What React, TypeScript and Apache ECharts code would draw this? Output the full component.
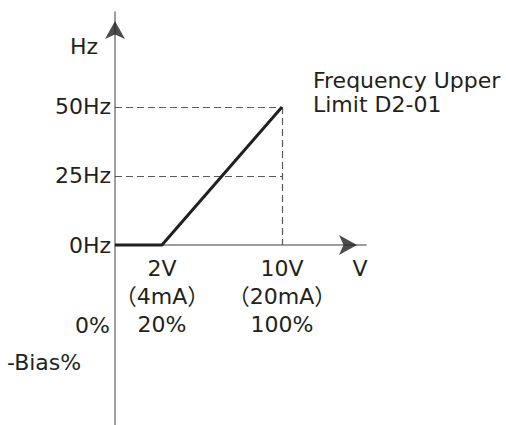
import React, { useEffect, useRef } from "react";
import * as echarts from "echarts";

// Axis domains (V horizontally, Hz vertically)
const X_MIN = -1.13;
const X_MAX = 15.6;
const Y_MIN = -65.2;
const Y_MAX = 84.4;

// Tick positions and labels
const xTickValues = [2, 10];
const xTickLabels = ["2V\n（4mA）\n20%", "10V\n（20mA）\n100%"];
const yTickValues = [0, 25, 50];
const yTickLabels = ["0Hz", "25Hz", "50Hz"];

// Frequency curve (V, Hz)
const curveV = [X_MIN, 2, 10];
const curveHz = [0, 0, 50];

// Reference levels
const upperLimitV = 10;
const upperLimitHz = 50;
const midHz = 25;

const FONT = "'DejaVu Sans', 'Noto Sans CJK SC', sans-serif";
const FS = 22;
const TEXT = "#231f20";
const GRID_TOP = 12;
const GRID_BOTTOM = 0;
const HEIGHT = 425;

export default function App() {
  const ref = useRef<HTMLDivElement>(null);
  useEffect(() => {
    if (!ref.current) return;
    const chart = echarts.init(ref.current, undefined, { renderer: "svg" });
    const dashStyle = { color: "#5a5a5a", width: 1.2, type: [7, 4] as any };
    const gridH = HEIGHT - GRID_TOP - GRID_BOTTOM;
    // move the x axis (line + labels) from the grid bottom up to Hz = 0
    const xOffset = -((0 - Y_MIN) / (Y_MAX - Y_MIN)) * gridH;
    chart.setOption({
      animation: false,
      backgroundColor: "#ffffff",
      grid: { left: 115, right: 140, top: GRID_TOP, bottom: GRID_BOTTOM, containLabel: false, outerBoundsMode: "none" },
      xAxis: {
        type: "value",
        min: X_MIN,
        max: X_MAX,
        offset: xOffset,
        splitLine: { show: false },
        axisTick: { show: false },
        axisLine: { onZero: false, lineStyle: { color: "#7d7d7d", width: 1.5 } },
        axisLabel: {
          customValues: xTickValues,
          formatter: (v: number) => xTickLabels[xTickValues.indexOf(v)] ?? "",
          color: TEXT,
          fontFamily: FONT,
          fontSize: FS,
          lineHeight: 28,
          margin: 9,
          align: "center",
        },
      },
      yAxis: {
        type: "value",
        min: Y_MIN,
        max: Y_MAX,
        splitLine: { show: false },
        axisTick: { show: false },
        axisLine: { onZero: false, lineStyle: { color: "#7d7d7d", width: 1.5 } },
        axisLabel: {
          customValues: yTickValues,
          formatter: (v: number) => yTickLabels[yTickValues.indexOf(v)] ?? "",
          color: TEXT,
          fontFamily: FONT,
          fontSize: FS,
          margin: 4,
        },
      },
      series: [
        {
          type: "line",
          data: curveV.map((v, i) => [v, curveHz[i]]),
          symbol: "none",
          lineStyle: { color: TEXT, width: 3 },
          z: 5,
          markLine: {
            silent: true,
            symbol: ["none", "none"],
            label: { show: false },
            lineStyle: dashStyle,
            data: [
              [{ coord: [X_MIN, upperLimitHz] }, { coord: [upperLimitV, upperLimitHz] }],
              [{ coord: [X_MIN, midHz] }, { coord: [upperLimitV, midHz] }],
              [{ coord: [upperLimitV, upperLimitHz] }, { coord: [upperLimitV, 0] }],
            ],
          },
        },
        {
          type: "scatter",
          clip: false,
          silent: true,
          symbol: "arrow",
          symbolSize: [15, 18],
          itemStyle: { color: TEXT },
          z: 6,
          data: [
            { value: [X_MAX, 0], symbolRotate: -90, symbolOffset: [-9, 0] },
            { value: [X_MIN, Y_MAX], symbolRotate: 0, symbolOffset: [0, 9] },
          ],
        },
      ],
      graphic: [
        { type: "text", x: 98, y: 46, style: { text: "Hz", fill: TEXT, font: `${FS}px ${FONT}`, textAlign: "right", textVerticalAlign: "middle" } },
        { type: "text", x: 360, y: 268, style: { text: "V", fill: TEXT, font: `${FS}px ${FONT}`, textAlign: "center", textVerticalAlign: "middle" } },
        { type: "text", x: 313, y: 68, style: { text: "Frequency Upper\nLimit D2-01", fill: TEXT, font: `${FS}px ${FONT}`, lineHeight: 24, textAlign: "left", textVerticalAlign: "top" } },
        { type: "text", x: 110, y: 325, style: { text: "0%", fill: TEXT, font: `${FS}px ${FONT}`, textAlign: "right", textVerticalAlign: "middle" } },
        { type: "text", x: 7, y: 362, style: { text: "-Bias%", fill: TEXT, font: `${FS}px ${FONT}`, textAlign: "left", textVerticalAlign: "middle" } },
      ],
    });
    return () => chart.dispose();
  }, []);
  return <div ref={ref} style={{ position: "fixed", left: 0, top: 0, width: 506, height: 425 }} />;
}
